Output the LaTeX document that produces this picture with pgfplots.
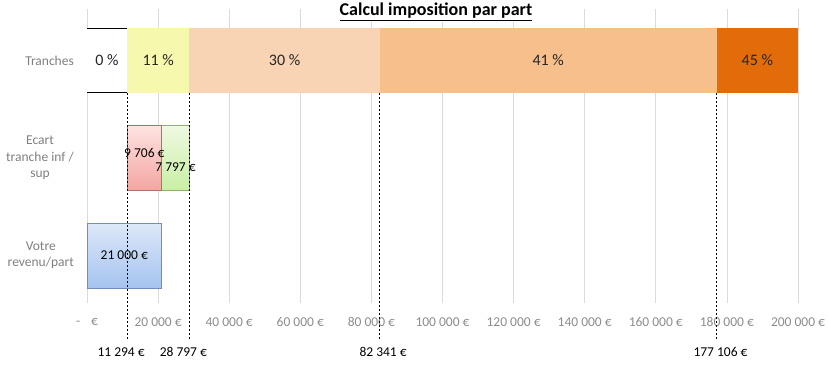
\documentclass[border=0pt]{standalone}
\usepackage{pgfplots}
\pgfplotsset{compat=1.18}
\usepackage{fontspec}
\setmainfont{Carlito}
\definecolor{cYel}{HTML}{F6F8AE}
\definecolor{cPeach}{HTML}{F9D4B4}
\definecolor{cOr}{HTML}{F6BF8C}
\definecolor{cDark}{HTML}{E26B0A}
\definecolor{rTop}{HTML}{FDE3E1}
\definecolor{rBot}{HTML}{F4A5A1}
\definecolor{rBd}{HTML}{B07070}
\definecolor{gTop}{HTML}{EFF9E2}
\definecolor{gBot}{HTML}{C8EFA3}
\definecolor{gBd}{HTML}{90B070}
\definecolor{bTop}{HTML}{DDE8F9}
\definecolor{bBot}{HTML}{A5C3EF}
\definecolor{bBd}{HTML}{6F8FBF}
\definecolor{tickgray}{HTML}{8C8C8C}
\definecolor{labgray}{HTML}{7F7F7F}
\definecolor{txt}{HTML}{262626}
\pgfplotsset{base/.style={at={(87pt,63pt)}, anchor=south west, scale only axis,
  width=711pt, height=294pt, xmin=0, xmax=200000, ymin=-0.487, ymax=2.528,
  enlargelimits=false, clip=false, bar width=65pt, scaled x ticks=false, scaled y ticks=false}}
\begin{document}
\begin{tikzpicture}
\path[use as bounding box] (0,0) rectangle (828pt,366pt);
% Axis 1: grid, ticks, Tranches (stacked)
\begin{axis}[base, xbar stacked,
  axis line style={draw=none},
  xmajorgrids, grid style={draw=black!14, line width=0.7pt},
  tick style={draw=none},
  xtick={0,20000,40000,60000,80000,100000,120000,140000,160000,180000,200000},
  xticklabels={{-\hspace{0.8em}€},{20 000 €},{40 000 €},{60 000 €},{80 000 €},{100 000 €},{120 000 €},{140 000 €},{160 000 €},{180 000 €},{200 000 €}},
  xticklabel style={anchor=center, yshift=-19pt, font=\fontsize{13.5}{16}\selectfont, text=tickgray},
  ytick={0,1,2},
  yticklabels={{Votre\\revenu/part},{Ecart\\tranche inf /\\sup},{Tranches}},
  yticklabel style={anchor=east, inner sep=0pt, xshift=-13pt, align=center, font=\fontsize{13.5}{16.5}\selectfont, text=labgray},
]
\addplot[fill=white, draw=none] coordinates {(11294,2)};
\addplot[fill=cYel, draw=none] coordinates {(17503,2)};
\addplot[fill=cPeach, draw=none] coordinates {(53544,2)};
\addplot[fill=cOr, draw=none] coordinates {(94765,2)};
\addplot[fill=cDark, draw=none] coordinates {(22894,2)};
\end{axis}
% Axis 2: Ecart (stacked, offset invisible)
\begin{axis}[base, hide axis, xbar stacked]
\addplot[draw=none, fill=none] coordinates {(11294,1)};
\addplot[draw=rBd, line width=0.5pt, top color=rTop, bottom color=rBot] coordinates {(9706,1)};
\addplot[draw=gBd, line width=0.5pt, top color=gTop, bottom color=gBot] coordinates {(7797,1)};
\end{axis}
% Axis 3: Votre bar, lines, labels
\begin{axis}[base, hide axis]
\addplot[xbar, draw=bBd, line width=0.5pt, top color=bTop, bottom color=bBot] coordinates {(21000,0)};
\addplot[black, line width=1pt] coordinates {(0,2.333) (11294,2.333)};
\addplot[black, line width=1pt] coordinates {(0,1.667) (11294,1.667)};
\addplot[black, line width=0.7pt, dash pattern=on 2pt off 2pt] coordinates {(11294,1.667) (11294,-0.867)};
\addplot[black, line width=0.7pt, dash pattern=on 2pt off 2pt] coordinates {(28797,1.667) (28797,-0.867)};
\addplot[black, line width=0.7pt, dash pattern=on 2pt off 2pt] coordinates {(82341,1.667) (82341,-0.867)};
\addplot[black, line width=0.7pt, dash pattern=on 2pt off 2pt] coordinates {(177106,1.667) (177106,-0.867)};
\begin{scope}[every node/.style={font=\fontsize{16}{18}\selectfont, text=txt}]
\node at (axis cs:5647,2) {0 \%};
\node at (axis cs:20045,2) {11 \%};
\node at (axis cs:55569,2) {30 \%};
\node at (axis cs:129723,2) {41 \%};
\node at (axis cs:188553,2) {45 \%};
\end{scope}
\begin{scope}[every node/.style={font=\fontsize{13.5}{16}\selectfont, text=black}]
\node at (axis cs:16147,1.051) {9 706 €};
\node at (axis cs:24898,0.908) {7 797 €};
\node at (axis cs:10500,0) {21 000 €};
\node at (axis cs:9600,-0.99) {11 294 €};
\node at (axis cs:27100,-0.99) {28 797 €};
\node at (axis cs:83300,-0.99) {82 341 €};
\node at (axis cs:178200,-0.99) {177 106 €};
\end{scope}
\node[fill=white, inner sep=1pt, font=\fontsize{18}{20}\selectfont\bfseries] at (axis cs:98170,2.497) {\underline{Calcul imposition par part}};
\end{axis}
\end{tikzpicture}
\end{document}
